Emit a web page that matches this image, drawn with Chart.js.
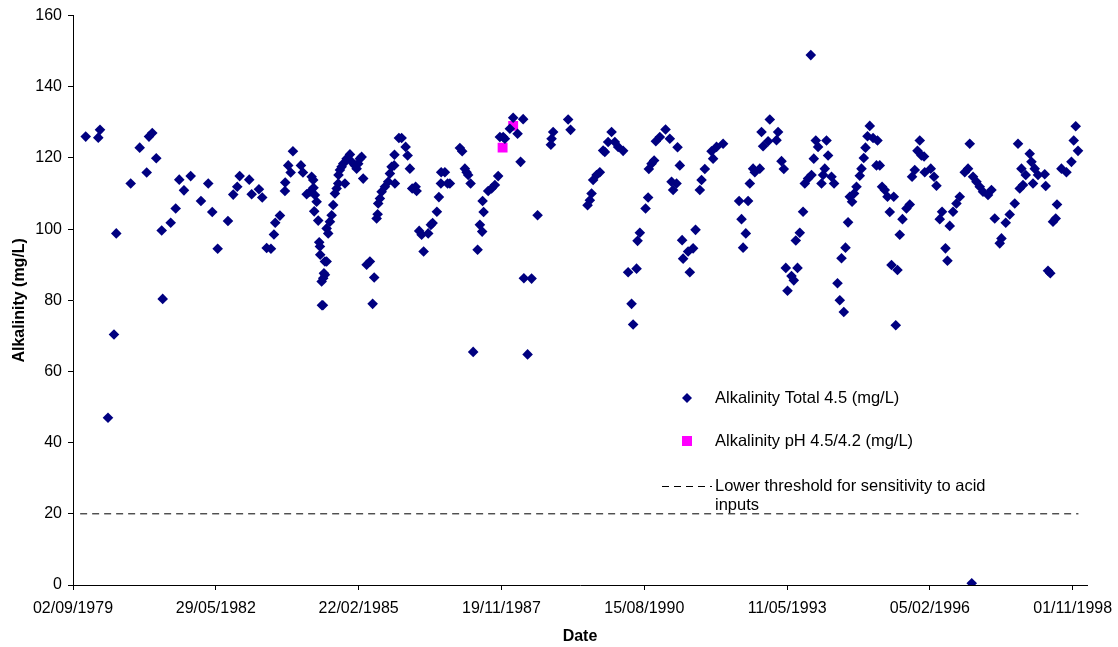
<!DOCTYPE html>
<html lang="en">

<head>
    <meta charset="UTF-8">
    <title>Alkalinity</title>
    <script src="https://cdn.jsdelivr.net/npm/chart.js"></script>
    <style>
        body {
            margin: 0;
            background: #fff;
        }

        .chart-container {
            width: 1118px;
            height: 647px;
            position: relative;
        }
    </style>
</head>

<body>
    <div class="chart-container"><canvas id="Alk_Chart"></canvas></div>

    <script>
        // days counted from 02/09/1979 (first tick of the date axis)
        var tickLabels = ['02/09/1979', '29/05/1982', '22/02/1985', '19/11/1987', '15/08/1990', '11/05/1993', '05/02/1996', '01/11/1998']
        var yTicks = [0, 20, 40, 60, 80, 100, 120, 140, 160]

        var totalDays = [
            89, 177, 189, 245, 287, 303, 404, 467, 516, 532, 555, 583, 628, 621, 684, 719, 744, 777, 824, 896,
            947, 975, 1013, 1085, 1122, 1150, 1167, 1234, 1251, 1302, 1325, 1356, 1386, 1407, 1416, 1449, 1484, 1486, 1507, 1524,
            1540, 1596, 1610, 1636, 1659, 1671, 1682, 1684, 1694, 1706, 1689, 1717, 1724, 1729, 1731, 1764, 1757, 1752, 1741, 1743, 1750,
            1776, 1764, 1787, 1776, 1799, 1811, 1822, 1834, 1846, 1857, 1859, 1869, 1881, 1904, 1892, 1916, 1939, 1951, 1974, 1997,
            1986, 2009, 2021, 2032, 2056, 2079, 2109, 2098, 2126, 2133, 2137, 2149, 2161, 2184, 2207, 2219, 2231, 2249, 2254, 2251,
            2282, 2301, 2329, 2343, 2359, 2375, 2399, 2406, 2424, 2441, 2487, 2455, 2506, 2518, 2548, 2562, 2576, 2578, 2604, 2623,
            2639, 2709, 2725, 2744, 2756, 2767, 2784, 2802, 2833, 2849, 2865, 2868, 2875, 2907, 2931, 2954, 2977, 2989, 3012, 3024,
            3082, 3152, 3059, 3113, 3134, 3157, 3211, 3183, 3253, 3362, 3351, 3346, 3467, 3484,
            3771, 3747, 3794, 3817, 3852, 3724, 3712, 3689, 3666, 3642, 3631, 3619, 3603, 3922, 3911, 3887, 3946, 3953, 3969, 4009,
            4027, 4032, 4051, 4069, 4081, 4109, 4149, 4179, 4233, 4249, 4191, 4202, 4226, 4265, 4359, 4319, 4272, 4307, 4342, 4389,
            4401, 4424,
            4471, 4506, 4552, 4482, 4664, 4727, 4681, 4711, 4692, 4739, 4762, 4809, 4774, 4821, 4879, 4937, 4926, 4832, 4867, 4961,
            4977, 4991, 5073, 5031, 5047, 5003, 5166, 5112, 5089, 5061, 5124, 5147, 5171, 5187, 5201, 5217, 5276, 5287, 5264, 5252,
            5241,
            5311, 5329, 5353, 5369, 5397, 5381, 5409, 5427, 5439, 5455, 5469, 5486, 5509, 5521, 5537, 5549, 5579, 5563, 5602, 5633,
            5626, 5649, 5665, 5684, 5703, 5747, 5719, 5731, 5773, 5761, 5789, 5808, 5836, 5859, 5875, 5894, 5929, 5913, 5941, 5959,
            5964, 6006, 6029, 6046, 6069, 6085, 6109, 6123, 6139, 6162,
            6279, 6244, 6267, 6302, 6326, 6349, 6372, 6407, 6431, 6209, 6186, 6454, 6501, 6489, 6531, 6559, 6594, 6629, 6652, 6617,
            6641, 6671, 6699, 6711, 6734, 6757, 6722, 6804, 6811, 6890, 6862, 6881, 6827, 6843, 6921, 6956, 6991, 7007, 7021, 7037,
            6293
        ]
        var totalAlk = [
            126, 125.7, 127.9, 47, 70.4, 98.8, 112.8, 122.9, 115.9, 126, 127, 119.9, 80.4, 99.6, 101.8, 105.8, 113.9, 110.9, 114.9, 107.9,
            112.8, 104.8, 94.5, 102.3, 109.7, 111.9, 114.9, 113.9, 109.8, 111.2, 108.9, 94.7, 94.5, 98.5, 101.8, 103.8, 110.7, 113.1, 117.9, 115.9,
            121.9, 117.9, 115.9, 109.8, 110.5, 114.7, 113.8, 111.6, 109.6, 107.7, 105, 102.4, 96.3, 95.1, 92.8, 90.9, 87.6, 86.2, 85.3, 78.6, 78.6,
            90.9, 87.2, 98.8, 100.2, 102.1, 103.9, 106.8, 110, 111.4, 112.8, 115.2, 116.6, 117.5, 112.8, 118.4, 119.8, 121, 118.9, 117.9, 118.4,
            117, 119.8, 120.3, 114.2, 90, 90.9, 86.4, 79, 103, 104.2, 107.2, 108.6, 110.5, 111.9, 113.3, 115.6, 117.5, 117.9, 112.8, 120.9,
            125.6, 125.6, 123.1, 120.7, 117, 111.4, 111.9, 110.7, 99.5, 98.4, 98.8, 93.7, 101.2, 101.7, 104.9, 109, 112.8, 116, 116, 112.8,
            112.8, 122.8, 121.9, 117, 116, 115.2, 112.8, 65.5, 94.2, 101.2, 99.3, 107.9, 104.8, 110.7, 111.4, 112.4, 114.9, 125.9, 125.9, 125.4,
            131.3, 130.9, 128.2, 126.8, 118.9, 86.2, 86.1, 64.8, 103.9, 127.3, 125.4, 123.7, 130.8, 127.9,
            127.3, 124.5, 124.5, 123.1, 122, 121.7, 122.1, 116, 115.2, 113.8, 110, 108.1, 106.7, 73.2, 79, 87.9, 88.9, 96.7, 99, 105.8,
            108.9, 116.9, 118.4, 119.3, 124.7, 125.9, 128, 125.4, 123, 117.9, 113.3, 111, 112.8, 96.9, 99.8, 87.9, 91.7, 93.7, 94.6, 111,
            113.8, 116.9,
            121.9, 123.1, 124, 119.8, 107.9, 107.9, 102.8, 98.8, 94.8, 112.8, 117, 117, 116, 127.3, 130.8, 127.3, 125, 123.3, 124.7, 119.1,
            116.9, 89.1, 89.1, 86.8, 85.6, 82.7, 148.9, 104.9, 99, 96.8, 112.8, 114.2, 115.2, 119.8, 124.9, 123.1, 124.9, 120.7, 117, 115.2,
            112.8,
            114.7, 112.8, 84.8, 80, 76.7, 91.8, 94.8, 101.9, 109.1, 107.7, 110, 111.9, 115, 117, 120, 122.9, 129, 126.1, 125.6, 124.9,
            117.9, 117.9, 111.9, 111, 109.1, 109.1, 104.8, 89.9, 88.5, 73, 98.4, 102.8, 105.8, 106.9, 114.7, 116.6, 124.9, 122, 120.7, 120.4,
            116, 117, 114.7, 112.2, 102.8, 104.9, 94.6, 91.1, 100.9, 104.9,
            124, 116, 117, 114.7, 113.3, 111.9, 110.5, 109.6, 111, 109.1, 107.2, 103, 97.4, 96, 101.8, 104.1, 107.2, 111.4, 112.4, 124,
            117, 115.2, 121.2, 118.9, 117, 115.2, 112.8, 115.4, 112.1, 106.9, 102.1, 103, 88.3, 87.6, 117, 116, 118.9, 124.9, 128.9, 122,
            0.5
        ]

        var phDays = [3008, 3082]
        var phAlk = [122.9, 129]

        var limiteDays = [50, 7040]
        var limiteAlk = [20, 20]

        var FONTE = '"Liberation Sans", Arial, sans-serif'

        function pares(xs, ys) {
            var out = []
            for (var c = 0; c < xs.length; c++) {
                out.push({ x: xs[c], y: ys[c] })
            }
            return out
        }

        // legend drawn inside the plot, like the original sheet
        const legendaInterna = {
            id: 'legendaInterna',
            afterDraw(chart) {
                const c = chart.ctx
                c.save()
                c.font = '16.5px ' + FONTE
                c.textBaseline = 'middle'

                c.fillStyle = '#000080'
                c.beginPath()
                c.moveTo(687, 393); c.lineTo(692, 398); c.lineTo(687, 403); c.lineTo(682, 398)
                c.closePath()
                c.fill()

                c.fillStyle = '#FF00FF'
                c.fillRect(682, 436, 10, 10)

                c.strokeStyle = '#000'
                c.lineWidth = 1
                c.setLineDash([7, 5])
                c.beginPath()
                c.moveTo(662, 486.5); c.lineTo(712, 486.5)
                c.stroke()
                c.setLineDash([])

                c.fillStyle = '#000'
                c.fillText('Alkalinity Total 4.5 (mg/L)', 715, 398)
                c.fillText('Alkalinity pH 4.5/4.2 (mg/L)', 715, 441)
                c.fillText('Lower threshold for sensitivity to acid', 715, 486)
                c.fillText('inputs', 715, 505)
                c.restore()
            }
        }

        const ctx = document.getElementById('Alk_Chart');

        new Chart(ctx, {
            type: 'scatter',
            data: {
                datasets: [{
                    label: 'Alkalinity Total 4.5 (mg/L)',
                    data: pares(totalDays, totalAlk),
                    pointStyle: 'rectRot',
                    pointRadius: 5.3,
                    backgroundColor: '#000080',
                    borderColor: '#000080',
                    borderWidth: 0
                }, {
                    label: 'Alkalinity pH 4.5/4.2 (mg/L)',
                    data: pares(phDays, phAlk),
                    pointStyle: 'rect',
                    pointRadius: 7,
                    backgroundColor: '#FF00FF',
                    borderColor: '#FF00FF',
                    borderWidth: 0
                }, {
                    label: 'Lower threshold for sensitivity to acid inputs',
                    data: pares(limiteDays, limiteAlk),
                    showLine: true,
                    pointRadius: 0,
                    borderColor: '#000',
                    borderWidth: 1,
                    borderDash: [7, 5]
                }]
            },
            options: {
                responsive: true,
                maintainAspectRatio: false,
                animation: false,
                layout: {
                    autoPadding: false,
                    padding: { top: 13, right: 31, left: 0, bottom: 0 }
                },
                scales: {
                    x: {
                        type: 'linear',
                        min: 0,
                        max: 7100,
                        afterBuildTicks: function (scale) {
                            scale.ticks = tickLabels.map(function (t, i) { return { value: i * 1000 } })
                        },
                        afterFit: function (scale) {
                            scale.height = 62
                            scale.paddingLeft = 0
                            scale.paddingRight = 0
                        },
                        ticks: {
                            color: '#000',
                            font: { family: FONTE, size: 16 },
                            padding: 9,
                            maxRotation: 0,
                            autoSkip: false,
                            callback: function (v) { return tickLabels[Math.round(v / 1000)] }
                        },
                        grid: {
                            drawOnChartArea: false,
                            color: '#000',
                            tickLength: 5
                        },
                        border: { color: '#000', width: 1 },
                        title: {
                            display: true,
                            text: 'Date',
                            color: '#000',
                            font: { family: FONTE, size: 16, weight: 'bold' },
                            padding: { top: 0, bottom: 1 }
                        }
                    },
                    y: {
                        min: 0,
                        max: 160,
                        afterBuildTicks: function (scale) {
                            scale.ticks = yTicks.map(function (v) { return { value: v } })
                        },
                        afterFit: function (scale) { scale.width = 73 },
                        ticks: {
                            color: '#000',
                            font: { family: FONTE, size: 16 },
                            padding: 6
                        },
                        grid: {
                            drawOnChartArea: false,
                            color: '#000',
                            tickLength: 5
                        },
                        border: { color: '#000', width: 1 },
                        title: {
                            display: true,
                            text: 'Alkalinity (mg/L)',
                            color: '#000',
                            font: { family: FONTE, size: 16, weight: 'bold' },
                            padding: { top: 10, bottom: 4 }
                        }
                    }
                },
                plugins: {
                    legend: { display: false },
                    tooltip: { enabled: false }
                }
            },
            plugins: [legendaInterna]
        });
    </script>
</body>

</html>
